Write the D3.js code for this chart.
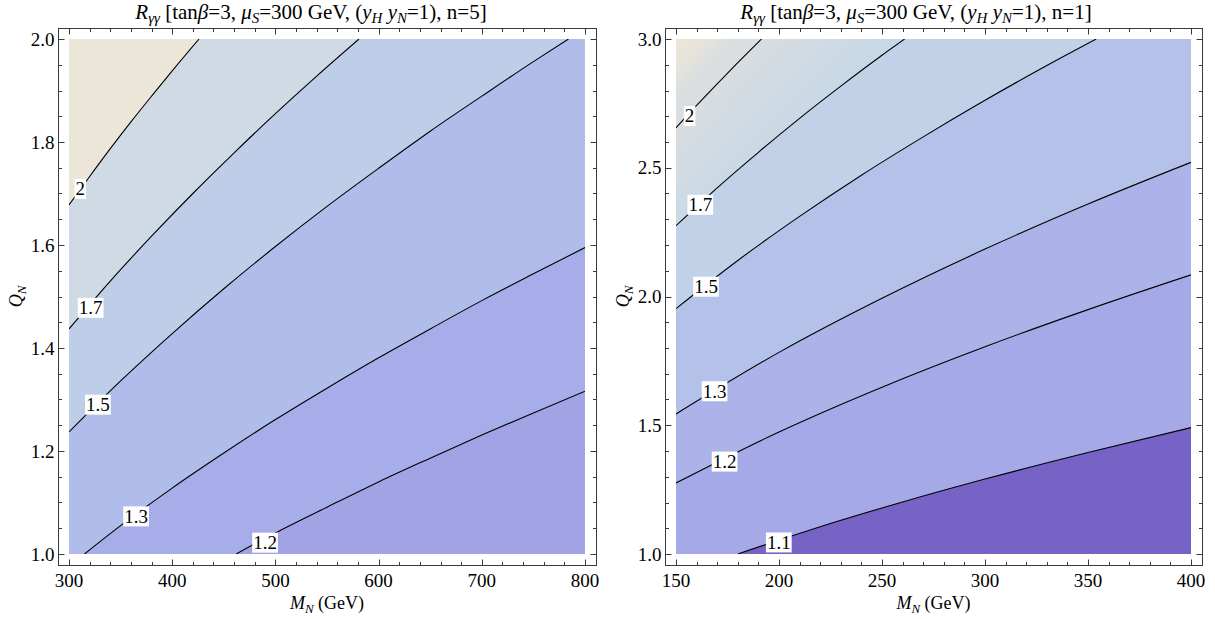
<!DOCTYPE html>
<html><head><meta charset="utf-8">
<script src="https://cdn.jsdelivr.net/npm/d3@7"></script>
<style>
body{margin:0;background:#fff}
svg{display:block}
text{font-family:"Liberation Serif","Times New Roman",Times,serif;fill:#000}
</style>
</head><body>
<svg id="chart" width="1215" height="619" font-family="Liberation Serif, Times New Roman, serif"></svg>
<script>
// ---------------- data ----------------
const leftXTicks = [300, 400, 500, 600, 700, 800];
const leftYTicks = [1.0, 1.2, 1.4, 1.6, 1.8, 2.0];
const rightXTicks = [150, 200, 250, 300, 350, 400];
const rightYTicks = [1.0, 1.5, 2.0, 2.5, 3.0];

// left panel (n=5): contour levels, highest first; points [M_N, Q_N]
const leftLevels = ["2", "1.7", "1.5", "1.3", "1.2"];
const leftC2  = [[300,1.678],[320,1.733],[340,1.787],[360,1.839],[380,1.889],[400,1.938],[426,2.0]];
const leftC17 = [[300,1.437],[340,1.530],[380,1.617],[420,1.700],[460,1.779],[500,1.855],[540,1.928],[581,2.0]];
const leftC15 = [[300,1.237],[350,1.336],[400,1.428],[450,1.515],[500,1.597],[550,1.675],[600,1.749],[650,1.821],[700,1.889],[750,1.956],[784,2.0]];
const leftC13 = [[315,1.0],[350,1.055],[400,1.128],[450,1.196],[500,1.261],[550,1.322],[600,1.381],[650,1.437],[700,1.492],[750,1.544],[800,1.595]];
const leftC12 = [[462,1.0],[500,1.041],[550,1.091],[600,1.140],[650,1.186],[700,1.231],[750,1.274],[800,1.316]];
const leftLabelPos = [[311,1.709],[321,1.478],[328,1.290],[365,1.073],[490,1.022]];

// right panel (n=1)
const rightLevels = ["2", "1.7", "1.5", "1.3", "1.2", "1.1"];
const rightC2  = [[150,2.655],[160,2.742],[170,2.826],[180,2.908],[191.5,3.0]];
const rightC17 = [[150,2.275],[170,2.422],[190,2.560],[210,2.692],[230,2.817],[250,2.937],[261,3.0]];
const rightC15 = [[150,1.953],[180,2.140],[210,2.311],[240,2.471],[270,2.620],[300,2.762],[330,2.897],[354,3.0]];
const rightC13 = [[150,1.544],[200,1.783],[250,1.993],[300,2.184],[350,2.359],[400,2.521]];
const rightC12 = [[150,1.276],[200,1.474],[250,1.648],[300,1.805],[350,1.949],[400,2.084]];
const rightC11 = [[180,1.0],[220,1.106],[260,1.202],[300,1.291],[350,1.394],[400,1.491]];
const rightLabelPos = [[156.6,2.701],[161.8,2.356],[164.6,2.038],[168.7,1.632],[173.6,1.359],[199.9,1.045]];

// ---------------- styles ----------------
const leftBandColors  = ["#ece6d8", "#cfdae5", "#bfcee8", "#b0bce9", "#a7ade8", "#a1a3e5"];
const rightBandColors = [
  {from:[150,3.0], to:[164.6,2.887], stops:["#ede6d8","#e6e3db","#dadee0"]},
  {from:[180,2.908], to:[210.7,2.67], stops:["#d8dde0","#c8d8e6"]},
  "#c1d2e8", "#b4c1e8", "#abb3e8", "#a6a9e7", "#7763c6"
];

const svg = d3.select("#chart");
const defs = svg.append("defs");
const PAD = 11;
let gradId = 0;

function panel(cfg) {
  const x = d3.scaleLinear().domain(cfg.xDomain).range(cfg.xRange);
  const y = d3.scaleLinear().domain(cfg.yDomain).range(cfg.yRange);
  const [x0, x1] = cfg.xDomain, [y0, y1] = cfg.yDomain;
  const g = svg.append("g");

  const fillOf = c => {
    if (typeof c === "string") return c;
    const id = "grad" + (gradId++);
    const lg = defs.append("linearGradient").attr("id", id)
      .attr("gradientUnits", "userSpaceOnUse")
      .attr("x1", x(c.from[0])).attr("y1", y(c.from[1]))
      .attr("x2", x(c.to[0])).attr("y2", y(c.to[1]));
    c.stops.forEach((s, i) => lg.append("stop").attr("offset", i / (c.stops.length - 1)).attr("stop-color", s));
    return "url(#" + id + ")";
  };

  const clipId = "clip" + cfg.name;
  defs.append("clipPath").attr("id", clipId).append("rect")
    .attr("x", x(x0)).attr("y", y(y1)).attr("width", x(x1) - x(x0)).attr("height", y(y0) - y(y1));

  const area = g.append("g").attr("clip-path", "url(#" + clipId + ")");
  area.append("rect").attr("x", x(x0)).attr("y", y(y1))
    .attr("width", x(x1) - x(x0)).attr("height", y(y0) - y(y1))
    .attr("fill", fillOf(cfg.colors[0]));

  const line = d3.line().x(d => x(d[0])).y(d => y(d[1])).curve(d3.curveMonotoneX);

  cfg.contours.forEach((c, i) => {
    const first = c[0], last = c[c.length - 1];
    let d = line(c);
    if (Math.abs(last[1] - y1) < 1e-9) d += "L" + x(x1) + "," + y(y1);
    d += "L" + x(x1) + "," + y(y0);
    if (Math.abs(first[0] - x0) < 1e-9) d += "L" + x(x0) + "," + y(y0);
    d += "Z";
    area.append("path").attr("d", d).attr("fill", fillOf(cfg.colors[i + 1]));
  });

  cfg.contours.forEach(c => {
    area.append("path").attr("d", line(c)).attr("fill", "none")
      .attr("stroke", "#000").attr("stroke-width", 1.1);
  });

  // contour labels
  cfg.levels.forEach((lv, i) => {
    const p = cfg.labelPos[i];
    const lg = g.append("g");
    const t = lg.append("text").attr("x", x(p[0])).attr("y", y(p[1]) + 6.5)
      .attr("text-anchor", "middle").attr("font-size", 19).text(lv);
    const bb = t.node().getBBox();
    lg.insert("rect", "text").attr("x", bb.x - 1).attr("y", bb.y + 0.5)
      .attr("width", bb.width + 2).attr("height", bb.height - 1).attr("fill", "#fff");
  });

  // frame
  const fl = Math.round(x(x0) - PAD) + 0.5, fr = Math.round(x(x1) + PAD) + 0.5;
  const ft = Math.round(y(y1) - PAD) + 0.5, fb = Math.round(y(y0) + PAD) + 0.5;
  const fc = "#3a3a3a";
  g.append("rect").attr("x", fl).attr("y", ft).attr("width", fr - fl).attr("height", fb - ft)
    .attr("fill", "none").attr("stroke", fc).attr("stroke-width", 1);

  const MAJ = 6, MIN = 3.5;
  const xt = d3.range(x0, x1 + cfg.xMinor / 2, cfg.xMinor);
  xt.forEach(v => {
    const major = cfg.xTicks.some(t => Math.abs(t - v) < 1e-6);
    const len = major ? MAJ : MIN;
    const px = Math.round(x(v)) + 0.5;
    g.append("line").attr("x1", px).attr("x2", px).attr("y1", fb).attr("y2", fb - len).attr("stroke", fc);
    g.append("line").attr("x1", px).attr("x2", px).attr("y1", ft).attr("y2", ft + len).attr("stroke", fc);
  });
  const yt = d3.range(0, Math.round((y1 - y0) / cfg.yMinor) + 1).map(k => y0 + k * cfg.yMinor);
  yt.forEach(v => {
    const major = cfg.yTicks.some(t => Math.abs(t - v) < 1e-6);
    const len = major ? MAJ : MIN;
    const py = Math.round(y(v)) + 0.5;
    g.append("line").attr("y1", py).attr("y2", py).attr("x1", fl).attr("x2", fl + len).attr("stroke", fc);
    g.append("line").attr("y1", py).attr("y2", py).attr("x1", fr).attr("x2", fr - len).attr("stroke", fc);
  });

  // tick labels
  cfg.xTicks.forEach(v => {
    g.append("text").attr("x", x(v)).attr("y", 587).attr("text-anchor", "middle")
      .attr("font-size", 19).text(d3.format("d")(v));
  });
  cfg.yTicks.forEach(v => {
    g.append("text").attr("x", fl - 4).attr("y", y(v) + 6.5).attr("text-anchor", "end")
      .attr("font-size", 19).text(d3.format(".1f")(v));
  });

  // axis labels
  const xl = g.append("text").attr("x", (x(x0) + x(x1)) / 2).attr("y", 609)
    .attr("text-anchor", "middle").attr("font-size", 18);
  xl.append("tspan").attr("font-style", "italic").text("M");
  xl.append("tspan").attr("font-style", "italic").attr("font-size", 13).attr("dy", 4).text("N");
  xl.append("tspan").attr("dy", -4).text(" (GeV)");

  const ylx = fl - 37, yly = (y(y0) + y(y1)) / 2;
  const yl = g.append("text").attr("transform", "translate(" + ylx + "," + yly + ") rotate(-90)")
    .attr("text-anchor", "middle").attr("font-size", 18);
  yl.append("tspan").attr("font-style", "italic").text("Q");
  yl.append("tspan").attr("font-style", "italic").attr("font-size", 13).attr("dy", 4).text("N");

  // title
  const tt = g.append("text").attr("x", cfg.titleX).attr("y", 19).attr("text-anchor", "middle")
    .attr("font-size", 21);
  const sub = (s) => tt.append("tspan").attr("font-style", "italic").attr("font-size", 15).attr("dy", 4).text(s);
  const it = (s, dy) => { const e = tt.append("tspan").attr("font-style", "italic").text(s); if (dy) e.attr("dy", dy); return e; };
  const rm = (s, dy) => { const e = tt.append("tspan").text(s); if (dy) e.attr("dy", dy); return e; };
  it("R"); sub("\u03b3\u03b3"); rm(" [tan", -4); it("\u03b2"); rm("=3, ");
  it("\u03bc"); sub("S"); rm("=300 GeV, (", -4); it("y"); sub("H"); it(" y", -4); sub("N");
  rm("=1), n=" + cfg.n + "]", -4);
}

panel({
  name: "L", n: 5,
  xDomain: [300, 800], xRange: [69, 585],
  yDomain: [1, 2], yRange: [554, 39],
  xTicks: leftXTicks, yTicks: leftYTicks, xMinor: 20, yMinor: 0.05,
  levels: leftLevels, contours: [leftC2, leftC17, leftC15, leftC13, leftC12],
  labelPos: leftLabelPos, colors: leftBandColors, titleX: 311
});
panel({
  name: "R", n: 1,
  xDomain: [150, 400], xRange: [676, 1191],
  yDomain: [1, 3], yRange: [554, 39],
  xTicks: rightXTicks, yTicks: rightYTicks, xMinor: 10, yMinor: 0.1,
  levels: rightLevels, contours: [rightC2, rightC17, rightC15, rightC13, rightC12, rightC11],
  labelPos: rightLabelPos, colors: rightBandColors, titleX: 916
});
</script>
</body></html>
